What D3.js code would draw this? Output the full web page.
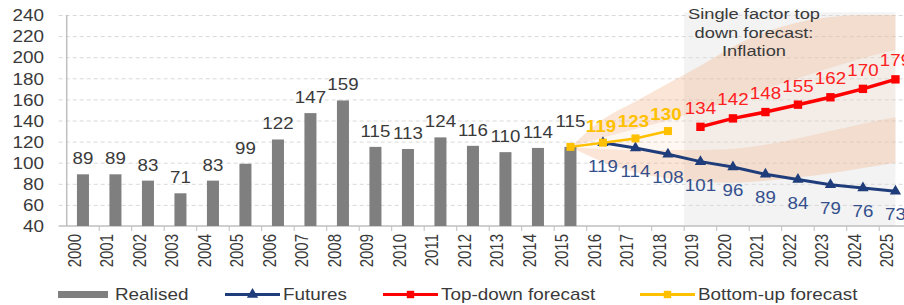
<!DOCTYPE html>
<html>
<head>
<meta charset="utf-8">
<script src="https://cdn.jsdelivr.net/npm/d3@7"></script>
<style>
  html, body { margin: 0; padding: 0; background: #fff; }
  svg { display: block; font-family: "Liberation Sans", Arial, sans-serif; }
</style>
</head>
<body>
<svg id="chart" width="904" height="305"></svg>
<script>
// Data
const years = d3.range(2000, 2026).map(String);
const yTicks = [40, 60, 80, 100, 120, 140, 160, 180, 200, 220, 240];

const realisedYears = d3.range(2000, 2016).map(String);
const realised = [89, 89, 83, 71, 83, 99, 122, 147, 159, 115, 113, 124, 116, 110, 114, 115];

const futuresYears = d3.range(2016, 2026).map(String);
const futures = [119, 114, 108, 101, 96, 89, 84, 79, 76, 73];

const topDownYears = d3.range(2019, 2026).map(String);
const topDown = [134, 142, 148, 155, 162, 170, 179];

const bottomUpYears = ["2015", "2016", "2017", "2018"];
const bottomUp = [115, 119, 123, 130];

// forecast uncertainty fan
const fanYears = d3.range(2015, 2026).map(String);
const fanOuterHigh = [115, 141, 158, 175, 192, 210, 224, 233, 238, 240, 240];
const fanInnerHigh = [115, 124, 132, 140, 150, 160, 170, 180, 190, 199, 207];
const fanInnerLow  = [115, 113, 112, 112, 112, 113, 117, 123, 130, 137, 143];
const fanOuterLow  = [115, 101, 91, 85, 82, 81, 83, 86, 90, 95, 100];

const shadeFrom = "2019";
const noteLines = ["Single factor top", "down forecast:", "Inflation"];

const legendItems = [
  { name: "Realised", type: "bar", color: "#7f7f7f" },
  { name: "Futures", type: "line", color: "#1f3d7a", symbol: d3.symbolTriangle },
  { name: "Top-down forecast", type: "line", color: "#ff0000", symbol: d3.symbolSquare },
  { name: "Bottom-up forecast", type: "line", color: "#ffc000", symbol: d3.symbolSquare }
];

// Chart
const svg = d3.select("#chart");
const width = 904, height = 305;
const plotLeft = 66.7, plotTop = 15, plotBottom = 226;
const step = 32.5;
const textColor = "#3a3a3a";
const SX = 1.18; // reference text is horizontally wide

const x = d3.scaleBand()
  .domain(years)
  .range([plotLeft, plotLeft + step * years.length])
  .paddingInner(0.63)
  .paddingOuter(0.315);
const cx = d => x(d) + x.bandwidth() / 2;

const y = d3.scaleLinear()
  .domain([40, 240])
  .range([plotBottom, plotTop]);

// helper for wide text
function wideText(g, px, py, str, opts = {}) {
  return g.append("text")
    .attr("transform", `translate(${px},${py}) scale(${opts.sx || SX},1)${opts.rotate ? " rotate(" + opts.rotate + ")" : ""}`)
    .attr("text-anchor", opts.anchor || "middle")
    .attr("font-size", opts.size || 16)
    .attr("font-weight", opts.weight || "normal")
    .attr("fill", opts.color || textColor)
    .text(str);
}

// shaded forecast area
const shadeX0 = x(shadeFrom) - x.step() * x.paddingInner() / 2;
svg.append("rect")
  .attr("x", shadeX0)
  .attr("y", y(242.5))
  .attr("width", cx("2025") - shadeX0)
  .attr("height", plotBottom - y(242.5))
  .attr("fill", "#f3f3f3");

// gridlines
svg.append("g")
  .attr("transform", `translate(${plotLeft},0)`)
  .call(d3.axisLeft(y).tickValues(yTicks.slice(1)).tickSize(-(width - plotLeft + 10)).tickFormat(""))
  .call(g => g.select(".domain").remove())
  .call(g => g.selectAll(".tick line")
    .attr("x1", -8)
    .attr("stroke", "#d9d9d9")
    .attr("stroke-dasharray", "4,3"));

// fan
const fanArea = (hi, lo) => d3.area()
  .x((d, i) => cx(fanYears[i]))
  .y0((d, i) => y(lo[i]))
  .y1((d, i) => y(hi[i]))
  .curve(d3.curveMonotoneX)(fanYears);

svg.append("path").attr("d", fanArea(fanOuterHigh, fanInnerHigh))
  .attr("fill", "#f4b183").attr("fill-opacity", 0.33);
svg.append("path").attr("d", fanArea(fanInnerLow, fanOuterLow))
  .attr("fill", "#f4b183").attr("fill-opacity", 0.33);
svg.append("path").attr("d", fanArea(fanInnerHigh, fanInnerLow))
  .attr("fill", "#f4b183").attr("fill-opacity", 0.1);

// axes
svg.append("line")
  .attr("x1", plotLeft).attr("x2", plotLeft)
  .attr("y1", plotTop).attr("y2", plotBottom)
  .attr("stroke", "#bfbfbf").attr("stroke-width", 1.5);

svg.append("line")
  .attr("x1", plotLeft - 8).attr("x2", width)
  .attr("y1", plotBottom).attr("y2", plotBottom)
  .attr("stroke", "#bfbfbf").attr("stroke-width", 1.5);

// x tick marks at category boundaries
svg.append("g").selectAll("line")
  .data(years)
  .join("line")
  .attr("x1", d => cx(d) + x.step() / 2)
  .attr("x2", d => cx(d) + x.step() / 2)
  .attr("y1", plotBottom)
  .attr("y2", plotBottom + 5)
  .attr("stroke", "#bfbfbf");

// y tick labels
svg.append("g")
  .attr("transform", `translate(${plotLeft},0)`)
  .call(d3.axisLeft(y).tickValues(yTicks).tickSize(0).tickPadding(0))
  .call(g => g.select(".domain").remove())
  .call(g => g.selectAll(".tick text")
    .attr("x", -(plotLeft - 44) / SX)
    .attr("dy", "0.36em")
    .attr("transform", `scale(${SX},1)`)
    .attr("text-anchor", "end")
    .attr("font-family", null)
    .attr("font-size", 16)
    .attr("fill", textColor));

// x tick labels
svg.append("g")
  .attr("transform", `translate(0,${plotBottom})`)
  .call(d3.axisBottom(x).tickSize(0))
  .call(g => g.select(".domain").remove())
  .call(g => g.selectAll(".tick text")
    .attr("x", 0).attr("y", 0).attr("dy", 0)
    .attr("transform", `translate(-2,8) scale(${SX},1) rotate(-90)`)
    .attr("text-anchor", "end")
    .attr("font-family", null)
    .attr("font-size", 15)
    .attr("fill", textColor));

// bars
svg.append("g").selectAll("rect")
  .data(realised)
  .join("rect")
  .attr("x", (d, i) => x(realisedYears[i]))
  .attr("y", d => y(d))
  .attr("width", x.bandwidth())
  .attr("height", d => plotBottom - y(d))
  .attr("fill", "#7f7f7f");

const barLabels = svg.append("g");
realised.forEach((d, i) => {
  const lift = i === realised.length - 1 ? 20 : 10;
  wideText(barLabels, cx(realisedYears[i]), y(d) - lift, d, { size: 17, sx: 1.1 });
});

// lines
function drawSeries(ys, vals, color, sw, symbol, size) {
  const line = d3.line()
    .x((d, i) => cx(ys[i]))
    .y(d => y(d));
  svg.append("path")
    .datum(vals)
    .attr("fill", "none")
    .attr("stroke", color)
    .attr("stroke-width", sw)
    .attr("d", line);
  svg.append("g").selectAll("path")
    .data(vals)
    .join("path")
    .attr("transform", (d, i) => `translate(${cx(ys[i])},${y(d)})`)
    .attr("d", d3.symbol(symbol, size))
    .attr("fill", color);
}

drawSeries(futuresYears, futures, "#1f3d7a", 3, d3.symbolTriangle, 55);
drawSeries(topDownYears, topDown, "#ff0000", 3.5, d3.symbolSquare, 70);
drawSeries(bottomUpYears, bottomUp, "#ffc000", 2.5, d3.symbolSquare, 64);

// series labels
const seriesLabels = svg.append("g");
futures.forEach((d, i) => {
  wideText(seriesLabels, cx(futuresYears[i]), y(d) + 29, d, { size: 17, sx: 1.1, color: "#34508c" });
});
topDown.forEach((d, i) => {
  wideText(seriesLabels, cx(topDownYears[i]), y(d) - 13, d, { size: 17, sx: 1.1, color: "#ff2020" });
});
bottomUp.forEach((d, i) => {
  if (realisedYears.includes(bottomUpYears[i])) return;
  wideText(seriesLabels, cx(bottomUpYears[i]) - 2, y(d) - 11, d, { size: 17, sx: 1.1, color: "#ffc000", weight: "bold" });
});

// annotation
const note = svg.append("g");
noteLines.forEach((t, i) => {
  wideText(note, 754, 19 + i * 18.5, t, { size: 15.5 });
});

// legend
const legendPos = [58, 225, 383, 640];
const legend = svg.append("g");
legendItems.forEach((item, i) => {
  const lx = legendPos[i];
  const ly = 294.5;
  if (item.type === "bar") {
    legend.append("rect")
      .attr("x", lx).attr("y", ly - 3.5)
      .attr("width", 50).attr("height", 7)
      .attr("fill", item.color);
    wideText(legend, lx + 57, 300, item.name, { anchor: "start", size: 16 });
  } else {
    legend.append("line")
      .attr("x1", lx).attr("x2", lx + 55)
      .attr("y1", ly).attr("y2", ly)
      .attr("stroke", item.color).attr("stroke-width", 3);
    legend.append("path")
      .attr("transform", `translate(${lx + 27.5},${ly})`)
      .attr("d", d3.symbol(item.symbol, 55))
      .attr("fill", item.color);
    wideText(legend, lx + 58, 300, item.name, { anchor: "start", size: 16 });
  }
});
</script>
</body>
</html>
